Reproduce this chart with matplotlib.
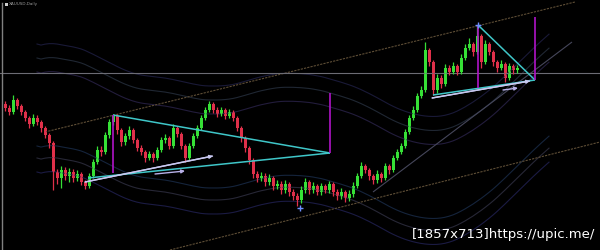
import numpy as np
import pandas as pd
import matplotlib
matplotlib.use('Agg')
import matplotlib.pyplot as plt

# daily candles, one per trading day
opens = [1796, 1792, 1788, 1800, 1794, 1788, 1782, 1776, 1782, 1778,
         1772, 1765, 1757, 1728, 1722, 1730, 1724, 1728, 1722, 1726,
         1718, 1714, 1724, 1738, 1750, 1748, 1765, 1778, 1784, 1770,
         1758, 1764, 1770, 1760, 1752, 1748, 1742, 1746, 1742, 1750,
         1760, 1762, 1754, 1772, 1766, 1754, 1742, 1754, 1764, 1772,
         1782, 1790, 1796, 1790, 1786, 1790, 1784, 1788, 1782, 1772,
         1762, 1752, 1740, 1726, 1722, 1724, 1718, 1722, 1714, 1716,
         1710, 1716, 1708, 1704, 1700, 1710, 1718, 1710, 1714, 1708,
         1714, 1710, 1716, 1708, 1704, 1708, 1702, 1706, 1714, 1724,
         1734, 1730, 1724, 1720, 1726, 1722, 1734, 1730, 1742, 1748,
         1754, 1768, 1782, 1790, 1804, 1810, 1850, 1838, 1810, 1822,
         1816, 1832, 1828, 1834, 1828, 1842, 1852, 1856, 1848, 1864,
         1838, 1856, 1848, 1838, 1832, 1836, 1822, 1834, 1830]
closes = [1792, 1788, 1800, 1794, 1788, 1782, 1776, 1782, 1778, 1772,
          1765, 1757, 1728, 1722, 1730, 1724, 1728, 1722, 1726, 1718,
          1714, 1724, 1738, 1750, 1748, 1765, 1778, 1784, 1770, 1758,
          1764, 1770, 1760, 1752, 1748, 1742, 1746, 1742, 1750, 1760,
          1762, 1754, 1772, 1766, 1754, 1742, 1754, 1764, 1772, 1782,
          1790, 1796, 1790, 1786, 1790, 1784, 1788, 1782, 1772, 1762,
          1752, 1740, 1726, 1722, 1724, 1718, 1722, 1714, 1716, 1710,
          1716, 1708, 1704, 1700, 1710, 1718, 1710, 1714, 1708, 1714,
          1710, 1716, 1708, 1704, 1708, 1702, 1706, 1714, 1724, 1734,
          1730, 1724, 1720, 1726, 1722, 1734, 1730, 1742, 1748, 1754,
          1768, 1782, 1790, 1804, 1810, 1850, 1838, 1810, 1822, 1816,
          1832, 1828, 1834, 1828, 1842, 1852, 1856, 1848, 1864, 1838,
          1856, 1848, 1838, 1832, 1836, 1822, 1834, 1830, 1832]
highs = [1799, 1795, 1805, 1802, 1796, 1790, 1784, 1786, 1785, 1780,
         1774, 1767, 1759, 1731, 1734, 1733, 1732, 1731, 1730, 1728,
         1720, 1727, 1741, 1754, 1754, 1768, 1781, 1786, 1786, 1772,
         1767, 1774, 1772, 1762, 1755, 1750, 1749, 1748, 1753, 1763,
         1766, 1764, 1776, 1774, 1768, 1756, 1757, 1767, 1775, 1785,
         1793, 1799, 1798, 1793, 1793, 1792, 1791, 1790, 1784, 1774,
         1764, 1754, 1742, 1729, 1728, 1727, 1726, 1724, 1720, 1719,
         1720, 1718, 1711, 1707, 1714, 1722, 1720, 1718, 1716, 1717,
         1716, 1719, 1718, 1711, 1712, 1710, 1710, 1718, 1727, 1738,
         1736, 1732, 1726, 1730, 1728, 1737, 1736, 1745, 1751, 1757,
         1771, 1785, 1794, 1807, 1814, 1858, 1852, 1840, 1826, 1825,
         1836, 1835, 1838, 1836, 1846, 1856, 1862, 1858, 1875, 1866,
         1860, 1858, 1850, 1840, 1840, 1838, 1837, 1836, 1835]
lows = [1789, 1785, 1786, 1791, 1785, 1779, 1772, 1774, 1775, 1768,
        1762, 1752, 1710, 1716, 1712, 1720, 1718, 1718, 1719, 1715,
        1711, 1712, 1722, 1736, 1744, 1746, 1762, 1775, 1766, 1754,
        1755, 1761, 1757, 1749, 1745, 1738, 1740, 1738, 1740, 1748,
        1757, 1751, 1752, 1763, 1751, 1738, 1740, 1752, 1762, 1770,
        1780, 1788, 1787, 1783, 1784, 1781, 1782, 1779, 1769, 1758,
        1748, 1736, 1722, 1718, 1719, 1714, 1715, 1710, 1711, 1706,
        1707, 1704, 1700, 1694, 1697, 1707, 1706, 1707, 1705, 1705,
        1707, 1707, 1704, 1700, 1701, 1698, 1699, 1703, 1712, 1722,
        1727, 1720, 1716, 1717, 1718, 1720, 1726, 1728, 1740, 1746,
        1752, 1766, 1780, 1788, 1802, 1808, 1834, 1805, 1807, 1812,
        1814, 1825, 1826, 1825, 1826, 1840, 1850, 1844, 1846, 1832,
        1836, 1845, 1834, 1828, 1830, 1818, 1820, 1826, 1827]

symbol = 'XAUUSD,Daily'
last_price = 1827
watermark = '[1857x713]https://upic.me/'

# drawn objects: (bar index, price) pairs
tri_left_upper = [(27, 1785), (81.25, 1747)]
tri_left_lower = [(20.75, 1722), (81.25, 1747)]
trend_left = [(20, 1718), (52, 1744)]
arrow_left = [(37.5, 1726), (45, 1729)]
tri_right_upper = [(118.25, 1875), (132.5, 1820)]
tri_right_lower = [(107, 1805), (132.5, 1820)]
trend_right = [(106.75, 1802), (131.25, 1819)]
arrow_right = [(124.5, 1810), (128.25, 1812)]
vert_lines = [(27, 1727, 1785), (81.25, 1747, 1807),
              (118.25, 1812, 1875), (132.5, 1820, 1883)]
channel_top = [(10, 1768), (142.5, 1898)]
channel_bottom = [(41.25, 1650), (148.75, 1758)]
steep_line = [(92, 1708), (141.75, 1858)]
cross_marks = [(73.75, 1692), (118.25, 1875)]


def draw_segment(ax, pts, color, lw=1.0, ls='-', alpha=1.0):
    xs = [p[0] for p in pts]
    ys = [p[1] for p in pts]
    ax.plot(xs, ys, color=color, lw=lw, ls=ls, alpha=alpha, solid_capstyle='butt')


def draw_arrow(ax, pts, color):
    ax.annotate('', xy=pts[1], xytext=pts[0],
                arrowprops=dict(arrowstyle='-|>', color=color, lw=1.0,
                                mutation_scale=5, shrinkA=0, shrinkB=0))


def main():
    fig = plt.figure(figsize=(6, 2.5), dpi=100)
    fig.patch.set_facecolor('black')
    ax = fig.add_axes([0, 0, 1, 1])
    ax.set_facecolor('black')
    ax.set_xlim(-1.25, 148.75)
    ax.set_ylim(1650, 1900)
    ax.axis('off')

    idx = np.arange(len(closes))
    o = np.array(opens)
    c = np.array(closes)

    # faint envelope bands around a smoothed moving average
    ma = pd.Series(c).rolling(30, min_periods=1).mean().ewm(span=15).mean()
    band_cols = ['#24245a', '#343448', '#1c3050', '#2e2650', '#2a3444', '#22224a']
    for k, off in enumerate([-64, -50, -38, 36, 50, 64]):
        ax.plot(idx + 8, ma + off, color=band_cols[k], lw=0.8, alpha=0.75)

    # channel and helper lines
    draw_segment(ax, channel_top, '#5e4e36', lw=0.8, ls=(0, (2, 1)))
    draw_segment(ax, channel_bottom, '#5e4e36', lw=0.8, ls=(0, (2, 1)))
    draw_segment(ax, steep_line, '#45465a', lw=0.8)
    ax.axhline(last_price, color='#6c6c74', lw=0.8)

    # candles
    up = c >= o
    body_col = np.where(up, '#36e036', '#e0304a')
    ax.vlines(idx, lows, highs, colors=body_col, lw=0.9)
    ax.bar(idx, np.maximum(np.abs(c - o), 0.8), bottom=np.minimum(o, c),
           width=0.75, color=body_col, linewidth=0)

    # triangles
    for seg in [tri_left_upper, tri_left_lower, tri_right_upper, tri_right_lower]:
        draw_segment(ax, seg, '#3fc6c8', lw=1.1)
    for seg in [trend_left, trend_right]:
        draw_segment(ax, seg, '#c8c8f0', lw=1.0)
        draw_arrow(ax, seg, '#c8c8f0')
    draw_arrow(ax, arrow_left, '#b8b0e8')
    draw_arrow(ax, arrow_right, '#b8b0e8')
    for x, y0, y1 in vert_lines:
        ax.vlines(x, y0, y1, colors='#b014c8', lw=1.2)
    for x, y in cross_marks:
        ax.plot(x, y, marker='+', color='#6f8fff', ms=4, mew=1.0)

    # chart frame and labels
    ax.plot([-0.75, -0.75], [1650, 1897], color='#808080', lw=1.0)
    ax.add_patch(plt.Rectangle((0.0, 1894.5), 0.7, 2.5, color='#cccccc', lw=0))
    ax.text(0.9, 1896, symbol, color='#999999', fontsize=3, va='center', ha='left')
    ax.text(0.992, 0.035, watermark, transform=ax.transAxes, color='white',
            fontsize=9.5, ha='right', va='bottom')

    fig.savefig('out.png', dpi=100, facecolor='black')


if __name__ == '__main__':
    main()
